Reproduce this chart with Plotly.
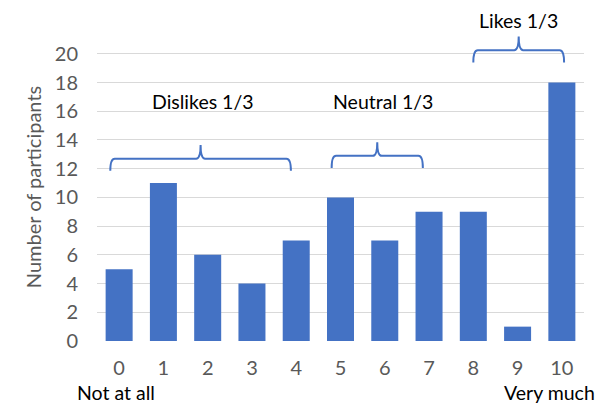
import plotly.graph_objects as go

# Ratings 0..10 and number of participants choosing each
ratings = [0, 1, 2, 3, 4, 5, 6, 7, 8, 9, 10]
participants = [5, 11, 6, 4, 7, 10, 7, 9, 9, 1, 18]
y_ticks = [0, 2, 4, 6, 8, 10, 12, 14, 16, 18, 20]

# Group braces: label, first rating edge, last rating edge, brace baseline
group_labels = ["Dislikes 1/3", "Neutral 1/3", "Likes 1/3"]
group_start = [-0.2, 4.8, 8.0]
group_end = [3.88, 6.86, 10.05]
group_base = [11.85, 12.05, 19.4]

BLUE = "#4472C4"
GREY = "#595959"
FONT = "Lato, 'Open Sans', sans-serif"

fig = go.Figure(
    go.Bar(
        x=ratings,
        y=participants,
        marker=dict(color=BLUE, line=dict(width=0)),
        width=0.61,
        hoverinfo="x+y",
    )
)


def brace_path(x0, x1, yb):
    """Curly brace opening downward, spanning x0..x1 with feet at yb."""
    xm = (x0 + x1) / 2
    yh = yb + 0.85
    yt = yh + 0.95
    dx = 0.1
    return (
        f"M {x0},{yb} Q {x0},{yh} {x0 + dx},{yh} "
        f"L {xm - dx},{yh} Q {xm},{yh} {xm},{yt} "
        f"Q {xm},{yh} {xm + dx},{yh} "
        f"L {x1 - dx},{yh} Q {x1},{yh} {x1},{yb}"
    )


shapes = []
for s, e, b in zip(group_start, group_end, group_base):
    shapes.append(
        dict(
            type="path",
            xref="x",
            yref="y",
            path=brace_path(s, e, b),
            line=dict(color=BLUE, width=2),
            layer="above",
        )
    )

# Label positions: the first two sit inside the plot, the last one above it
label_pos = [("y", 1.9, 16.7), ("y", 5.96, 16.7), ("paper", 9.03, 1.04)]
annotations = []
for text, (yr, ax, ay) in zip(group_labels, label_pos):
    annotations.append(
        dict(
            x=ax, y=ay, xref="x", yref=yr, text=text, showarrow=False,
            yanchor="middle",
            font=dict(family=FONT, size=19.5, color="#000000"),
        )
    )

# Scale end descriptions under the axis
annotations += [
    dict(x=-0.045, y=-0.166, xref="paper", yref="paper", text="Not at all",
         showarrow=False, xanchor="left", yanchor="middle",
         font=dict(family=FONT, size=19.5, color="#000000")),
    dict(x=1.027, y=-0.166, xref="paper", yref="paper", text="Very much",
         showarrow=False, xanchor="right", yanchor="middle",
         font=dict(family=FONT, size=19.5, color="#000000")),
]

fig.update_layout(
    width=602,
    height=411,
    margin=dict(l=97, r=18, t=33, b=70),
    paper_bgcolor="white",
    plot_bgcolor="white",
    showlegend=False,
    shapes=shapes,
    annotations=annotations,
    font=dict(family=FONT, size=20, color=GREY),
    xaxis=dict(
        range=[-0.5, 10.5],
        tickmode="array",
        tickvals=ratings,
        ticktext=[str(r) for r in ratings],
        showgrid=False,
        zeroline=False,
        showline=False,
        ticks="",
        ticklabelstandoff=13,
        tickfont=dict(family=FONT, size=20, color=GREY),
    ),
    yaxis=dict(
        range=[0, 21.45],
        tickmode="array",
        tickvals=y_ticks,
        showgrid=True,
        gridcolor="#D9D9D9",
        gridwidth=1.3,
        zeroline=False,
        showline=False,
        ticks="",
        ticklabelstandoff=18,
        tickfont=dict(family=FONT, size=20, color=GREY),
        title=dict(text="Number of participants", standoff=7,
                   font=dict(family=FONT, size=20, color=GREY)),
    ),
)

fig.write_html("out.html")
